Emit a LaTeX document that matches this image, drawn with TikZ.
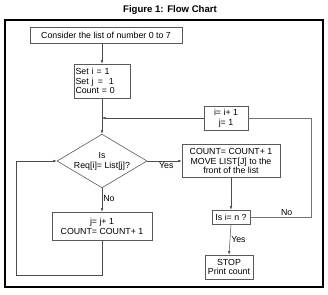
\documentclass[tikz,border=0pt]{standalone}
\usepackage{fontspec}
\setmainfont{Liberation Sans}
\usetikzlibrary{arrows.meta,shapes.geometric}

\begin{document}
\begin{tikzpicture}[
    x=1pt, y=-1pt,
    >={Latex[length=3.5pt,width=2.6pt]},
    box/.style={
      draw=black!65,
      line width=0.6pt,
      align=center,
      inner sep=1pt,
      font=\fontsize{8.8}{9.8}\selectfont
    },
    decide/.style={
      box,
      shape=diamond,
      inner sep=-5pt,
      minimum width=90pt,
      minimum height=42pt
    },
    lbl/.style={font=\fontsize{8.8}{9.8}\selectfont, inner sep=1pt},
    flow/.style={->, line width=0.5pt, draw=black!70},
    plain/.style={line width=0.5pt, draw=black!55}
  ]
    \useasboundingbox (0,0) rectangle (328,294);

    \node[font=\bfseries\fontsize{9.6}{11}\selectfont] (title) at (170,10) {Figure 1: Flow Chart};
    \draw[line width=1.6pt] (5,20) rectangle (323,287);

    \node[box, minimum width=152pt, minimum height=16pt] (consider) at (106,35) {Consider the list of number 0 to 7};
    \node[box, align=left, minimum width=56pt, minimum height=34pt, text width=53pt] (init) at (102,81) {Set i = 1\\Set j \,= \ 1\\Count = 0};
    \node[box, minimum width=44pt, minimum height=24pt] (incr) at (226,118) {i= i+ 1\\j= 1};
    \node[decide] (cond) at (102,161) {Is\\Req[i]= List[j]?};
    \node[box, minimum width=98pt, minimum height=33pt] (found) at (231,161) {COUNT= COUNT+ 1\\MOVE LIST[J] to the\\front of the list};
    \node[box, minimum width=100pt, minimum height=28pt] (next) at (102,226) {j= j+ 1\\COUNT= COUNT+ 1};
    \node[box, minimum width=38pt, minimum height=14pt] (check) at (231,217) {Is i= n ?};
    \node[box, minimum width=48pt, minimum height=24pt] (stop) at (229,267) {STOP\\Print count};

    \coordinate (merge) at (102,118);
    \coordinate (rloop) at (311,118);
    \coordinate (lloop) at (16,275);

    \draw[flow] (consider.south -| init.north) -- (init.north);
    \draw[flow] (init.south) -- (cond.north);
    \draw[flow] (incr.west) -- (merge);
    \draw[flow] (cond.east) -- node[lbl, below, pos=0.55] {Yes} (found.west);
    \draw[flow] (cond.south) -- node[lbl, right, pos=0.45] {No} (next.north);
    \draw[flow] (found.south) -- (check.north);
    \draw[flow] (check.south) -- node[lbl, right] {Yes} (stop.north);
    \draw[plain] (check.east) -| node[lbl, above, pos=0.3] {No} (rloop) -- (incr.east);
    \draw[flow] (next.south) |- (lloop) |- (cond.west);
  \end{tikzpicture}
\end{document}
